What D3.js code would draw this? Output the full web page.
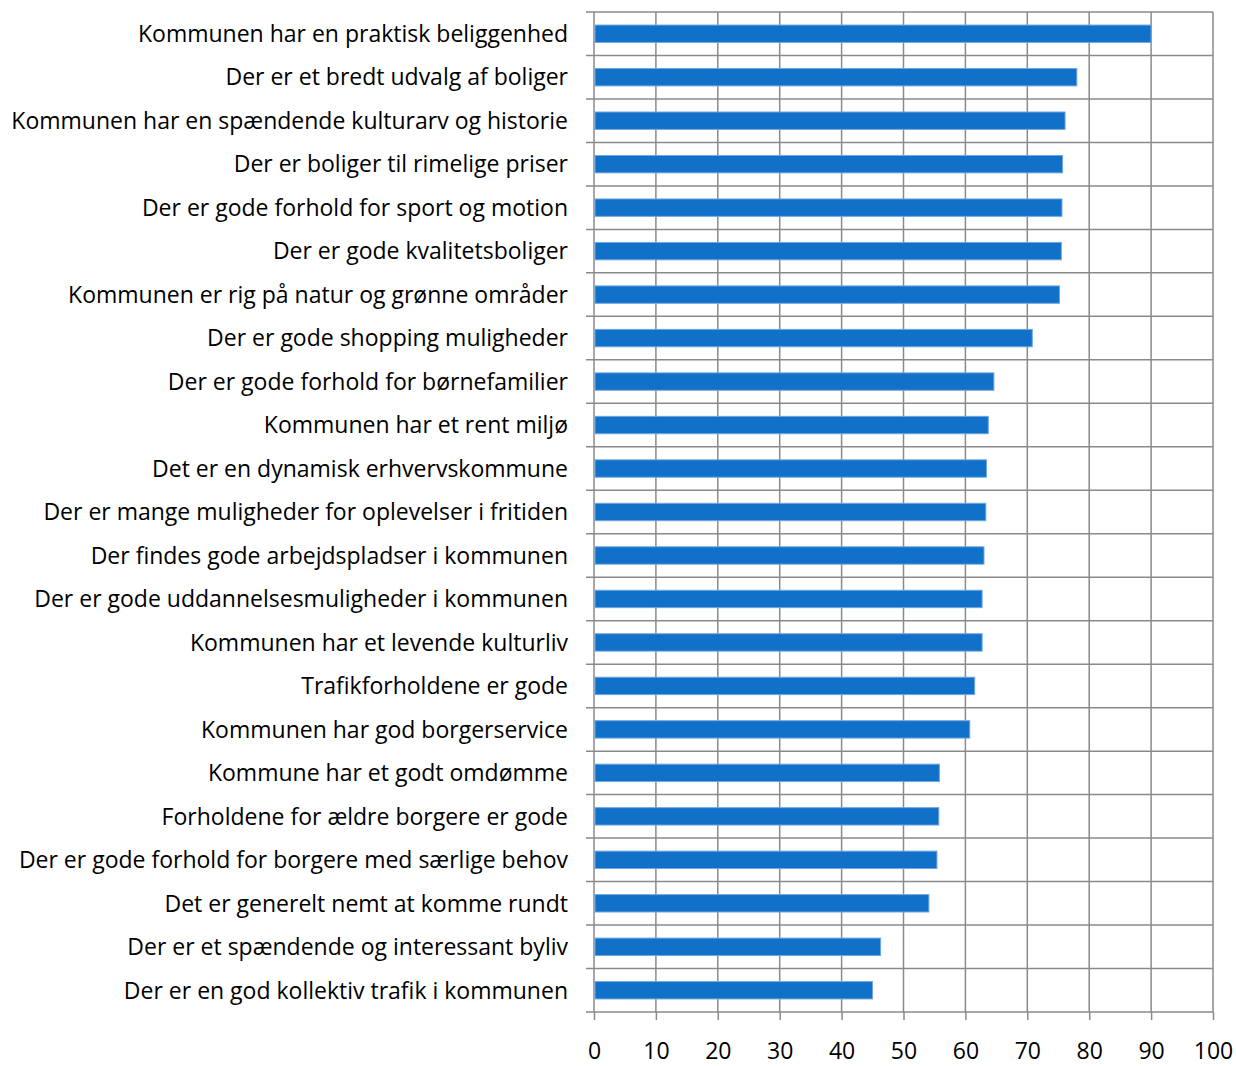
<!DOCTYPE html>
<html>
<head>
<meta charset="utf-8">
<script src="https://cdn.jsdelivr.net/npm/d3@7"></script>
<style>
  body { margin: 0; background: #fff; }
  text { font-family: "Open Sans", sans-serif; fill: #000; }
</style>
</head>
<body>
<div id="container"></div>
<script>
// DATA

const categories = [
  "Kommunen har en praktisk beliggenhed",
  "Der er et bredt udvalg af boliger",
  "Kommunen har en spændende kulturarv og historie",
  "Der er boliger til rimelige priser",
  "Der er gode forhold for sport og motion",
  "Der er gode kvalitetsboliger",
  "Kommunen er rig på natur og grønne områder",
  "Der er gode shopping muligheder",
  "Der er gode forhold for børnefamilier",
  "Kommunen har et rent miljø",
  "Det er en dynamisk erhvervskommune",
  "Der er mange muligheder for oplevelser i fritiden",
  "Der findes gode arbejdspladser i kommunen",
  "Der er gode uddannelsesmuligheder i kommunen",
  "Kommunen har et levende kulturliv",
  "Trafikforholdene er gode",
  "Kommunen har god borgerservice",
  "Kommune har et godt omdømme",
  "Forholdene for ældre borgere er gode",
  "Der er gode forhold for borgere med særlige behov",
  "Det er generelt nemt at komme rundt",
  "Der er et spændende og interessant byliv",
  "Der er en god kollektiv trafik i kommunen"
]

const values = [90.0, 78.0, 76.1, 75.7, 75.6, 75.5, 75.2, 70.8, 64.6, 63.7, 63.4, 63.3,
                63.0, 62.7, 62.7, 61.5, 60.7, 55.8, 55.7, 55.4, 54.1, 46.3, 45.0]

const xTicks = [0, 10, 20, 30, 40, 50, 60, 70, 80, 90, 100]

const data = categories.map((c, i) => ({label: c, value: values[i]}))

// VARIABLES

const width = 1236,
      height = 1066,
      margin = {top: 12, bottom: 54, left: 594, right: 23},
      gridColor = "#8a8a8a",
      barColor = "#1170c8"

// SCALES

const xScale = d3.scaleLinear()
    .domain([0, 100])
    .range([margin.left, width - margin.right])

const yScale = d3.scaleBand()
    .domain(categories)
    .range([margin.top, height - margin.bottom])
    .paddingInner(0.6)
    .paddingOuter(0.3)

// band boundaries (category separators)
const step = (height - margin.bottom - margin.top) / categories.length
const bounds = d3.range(categories.length + 1).map(i => margin.top + i * step)

// ELEMENTS

const mySVG = d3.select("#container")
    .append("svg")
    .attr("width", width)
    .attr("height", height)

// vertical gridlines
mySVG.append("g")
    .selectAll("line")
    .data(xTicks)
    .join("line")
    .attr("x1", d => xScale(d))
    .attr("x2", d => xScale(d))
    .attr("y1", margin.top)
    .attr("y2", height - margin.bottom)
    .attr("stroke", gridColor)
    .attr("stroke-width", 1.5)

// horizontal gridlines + left ticks
mySVG.append("g")
    .selectAll("line")
    .data(bounds)
    .join("line")
    .attr("x1", margin.left - 8)
    .attr("x2", width - margin.right)
    .attr("y1", d => d)
    .attr("y2", d => d)
    .attr("stroke", gridColor)
    .attr("stroke-width", 1.5)

// bottom axis
const xAxis = d3.axisBottom(xScale)
    .tickValues(xTicks)
    .tickSize(8)
    .tickPadding(23)

const gx = mySVG.append("g")
    .attr("transform", `translate(0,${height - margin.bottom})`)
    .call(xAxis)

gx.select(".domain").remove()
gx.selectAll("line").attr("stroke", gridColor).attr("stroke-width", 1.5)
gx.selectAll("text")
    .attr("font-size", 23)
    .style("font-family", "'Open Sans', sans-serif")
    .attr("fill", "#000")

// category labels
mySVG.append("g")
    .selectAll("text")
    .data(data)
    .join("text")
    .attr("x", margin.left - 26)
    .attr("y", d => yScale(d.label) + yScale.bandwidth() / 2)
    .attr("dy", "0.36em")
    .attr("text-anchor", "end")
    .attr("font-size", 23)
    .text(d => d.label)

// SELECT-JOIN-DRAW

mySVG.append("g")
    .selectAll("rect")
    .data(data)
    .join("rect")
    .attr("x", xScale(0) + 1)
    .attr("y", d => yScale(d.label))
    .attr("width", d => xScale(d.value) - xScale(0) - 1)
    .attr("height", yScale.bandwidth())
    .attr("fill", barColor)
    .attr("stroke", "#6fa7e0")
    .attr("stroke-width", 1)
</script>
</body>
</html>
